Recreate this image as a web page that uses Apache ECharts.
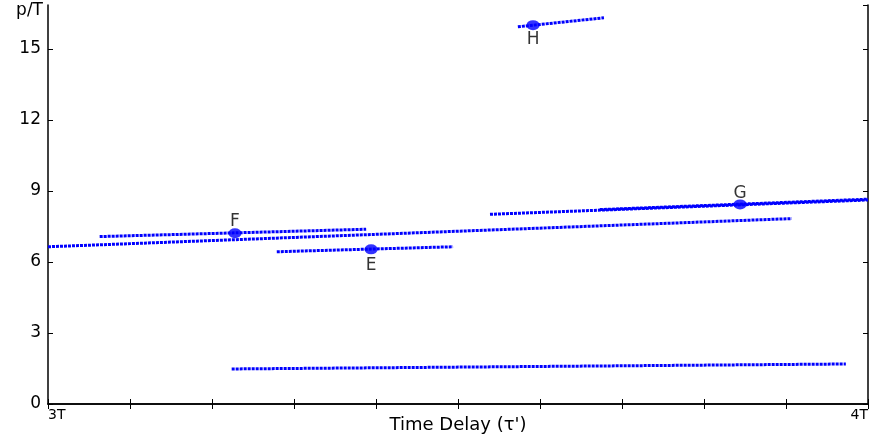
<!DOCTYPE html>
<html>
<head>
<meta charset="utf-8">
<script src="https://cdn.jsdelivr.net/npm/echarts@6/dist/echarts.min.js"></script>
<style>
	html, body { margin: 0; padding: 0; background: #fff; }
	#chart { width: 870px; height: 437px; }
</style>
</head>
<body>
<div id="chart"></div>
<script>
// line segments, [start, end] in (delay, p/T)
var bottomLine = [[3.224, 1.48], [3.973, 1.69]];
var longLine = [[3.0, 6.64], [3.907, 7.83]];
var fLine = [[3.063, 7.07], [3.388, 7.38]];
var eLine = [[3.279, 6.43], [3.494, 6.64]];
var gLine = [[3.539, 8.01], [4.0, 8.615]];
var gLine2 = [[3.673, 8.21], [4.0, 8.65]];
var hLine = [[3.573, 15.93], [3.678, 16.31]];

// labelled points
var pointNames = ["E", "F", "G", "H"];
var pointX = [3.394, 3.228, 3.844, 3.5915];
var pointY = [6.53, 7.21, 8.43, 16.0];
var labelPos = ["bottom", "top", "top", "bottom"];
var labelDist = [3, -2, -3, 1];

var yTicks = [0, 3, 6, 9, 12, 15];

(function() {
	var chart = echarts.init(document.getElementById("chart"));
	var font = "DejaVu Sans, Liberation Sans, sans-serif";
	var blue = "#0000ff";

	function seg(d) {
		return {
			type: "line",
			data: d,
			symbol: "none",
			silent: true,
			lineStyle: { color: blue, width: 3, type: [3, 1] },
			z: 2
		};
	}

	var series = [bottomLine, longLine, fLine, eLine, gLine, gLine2, hLine].map(seg);
	series.push({
		type: "scatter",
		symbol: "circle",
		symbolSize: [13, 10],
		itemStyle: { color: blue },
		z: 3,
		data: pointNames.map(function(n, i) {
			return {
				value: [pointX[i], pointY[i]],
				label: {
					show: true,
					formatter: n,
					position: labelPos[i],
					distance: labelDist[i],
					color: "#000",
					fontFamily: font,
					fontSize: 17
				}
			};
		})
	});

	var axisLine = { lineStyle: { color: "#000", width: 1.5 } };
	var tick = { inside: true, length: 5, lineStyle: { color: "#000", width: 1 } };

	chart.setOption({
		animation: false,
		grid: { left: 48, right: 2, top: 5, bottom: 33, outerBoundsMode: "none" },
		xAxis: [{
			type: "value",
			min: 3,
			max: 4,
			interval: 0.1,
			name: "Time Delay (\u03c4')",
			nameLocation: "middle",
			nameGap: 12,
			nameMoveOverlap: false,
			nameTextStyle: { color: "#000", fontFamily: font, fontSize: 18 },
			axisLine: axisLine,
			axisTick: tick,
			splitLine: { show: false },
			axisLabel: {
				color: "#000",
				fontFamily: font,
				fontSize: 14,
				margin: 4,
				alignMinLabel: "left",
				alignMaxLabel: "right",
				formatter: function(v) {
					if (Math.abs(v - 3) < 1e-6) return "3T";
					if (Math.abs(v - 4) < 1e-6) return "4T";
					return "";
				}
			}
		}, {
			type: "value",
			position: "top",
			min: 3,
			max: 4,
			interval: 0.1,
			axisLine: axisLine,
			axisTick: tick,
			axisLabel: { show: false },
			splitLine: { show: false }
		}],
		yAxis: [{
			type: "value",
			min: 0,
			max: 16.85,
			interval: 3,
			name: "p/T",
			nameLocation: "end",
			nameGap: -14,
			nameTextStyle: { color: "#000", fontFamily: font, fontSize: 17, align: "right", padding: [0, 5, 0, 0] },
			axisLine: axisLine,
			axisTick: tick,
			splitLine: { show: false },
			axisLabel: {
				color: "#000",
				fontFamily: font,
				fontSize: 17,
				margin: 7,
				showMaxLabel: false,
				formatter: function(v) {
					return yTicks.indexOf(v) >= 0 ? String(v) : "";
				}
			}
		}, {
			type: "value",
			position: "right",
			min: 0,
			max: 16.85,
			interval: 3,
			axisLine: axisLine,
			axisTick: tick,
			axisLabel: { show: false },
			splitLine: { show: false }
		}],
		series: series
	});
})();
</script>
</body>
</html>
